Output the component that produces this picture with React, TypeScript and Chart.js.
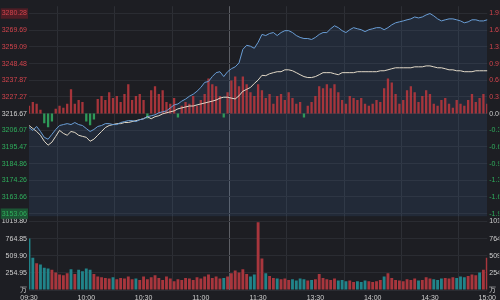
import React, { useEffect, useRef } from 'react';
import { Chart, registerables } from 'chart.js';

Chart.register(...registerables);

const PRE_CLOSE = 3216.67;
const PRICE_TICKS = [3280.28, 3269.69, 3259.09, 3248.48, 3237.87, 3227.27, 3216.67, 3206.07, 3195.47, 3184.86, 3174.26, 3163.66, 3153.06];
const VOLUME_TICKS = [0, 254.95, 509.9, 764.85, 1019.8];
const TIME_TICKS = ['09:30', '10:00', '10:30', '11:00', '11:30', '13:30', '14:00', '14:30', '15:00'];

// 2-minute samples, 09:30 .. 11:30 then 13:02 .. 15:00
const BLUE = [
  3207.8, 3206.0, 3208.5, 3205.3, 3201.6, 3200.4, 3203.5, 3206.6, 3209.1, 3209.7,
  3210.3, 3209.7, 3211.0, 3209.7, 3209.1, 3207.2, 3205.3, 3206.6, 3208.5, 3209.1,
  3210.3, 3210.3, 3209.7, 3209.7, 3211.0, 3211.6, 3212.2, 3212.2, 3211.6, 3212.8,
  3213.4, 3214.7, 3215.3, 3215.9, 3217.2, 3217.8, 3218.4, 3220.3, 3222.2, 3222.8,
  3224.6, 3225.9, 3227.7, 3229.0, 3230.9, 3233.3, 3236.5, 3237.1, 3240.2, 3242.7,
  3243.3, 3240.2, 3243.3, 3245.2, 3246.4, 3248.9, 3257.5, 3260.1, 3259.5, 3258.2,
  3262.0,
  3267.0, 3266.3, 3267.6, 3268.2, 3266.3, 3268.2, 3269.4, 3269.4, 3268.2, 3266.3,
  3265.1, 3264.4, 3264.4, 3263.8, 3265.1, 3267.0, 3268.2, 3268.2, 3270.6, 3272.5,
  3271.3, 3269.4, 3268.2, 3270.0, 3271.3, 3270.6, 3270.0, 3268.8, 3270.0, 3270.6,
  3271.3, 3271.3, 3270.0, 3271.3, 3273.1, 3274.4, 3275.0, 3275.6, 3276.3, 3276.9,
  3278.1, 3277.5, 3278.1, 3279.4, 3280.3, 3278.8, 3276.9, 3275.6, 3276.3, 3276.9,
  3276.9, 3276.3, 3275.6, 3274.4, 3275.0, 3276.3, 3276.3, 3275.6, 3275.6, 3276.3,
];

const WHITE = [
  3209.1, 3207.2, 3205.3, 3202.9, 3199.1, 3196.6, 3198.5, 3202.2, 3206.0, 3204.1,
  3202.9, 3205.3, 3204.7, 3202.9, 3202.2, 3201.6, 3199.1, 3200.4, 3202.9, 3205.3,
  3207.8, 3209.1, 3209.7, 3210.3, 3210.3, 3211.0, 3211.0, 3211.6, 3212.2, 3212.8,
  3213.4, 3214.7, 3213.4, 3214.7, 3215.3, 3216.5, 3217.2, 3217.8, 3218.4, 3219.7,
  3220.3, 3220.9, 3221.5, 3221.5, 3222.2, 3222.8, 3223.4, 3224.0, 3224.6, 3225.3,
  3226.5, 3227.1, 3227.1, 3226.5, 3226.0, 3228.0, 3230.9, 3232.1, 3233.3, 3235.8,
  3238.0,
  3241.0, 3240.8, 3242.0, 3242.7, 3243.3, 3243.3, 3244.5, 3244.5, 3243.9, 3242.7,
  3241.4, 3240.2, 3239.6, 3239.6, 3240.2, 3241.4, 3242.7, 3242.7, 3242.7, 3242.0,
  3241.4, 3242.7, 3242.7, 3242.7, 3242.7, 3243.3, 3243.3, 3243.3, 3243.3, 3243.3,
  3243.3, 3243.9, 3243.9, 3244.5, 3245.2, 3245.8, 3245.8, 3245.8, 3245.8, 3245.8,
  3246.4, 3246.4, 3246.4, 3247.0, 3247.0, 3246.4, 3245.8, 3245.8, 3245.2, 3244.5,
  3244.5, 3243.9, 3243.9, 3243.3, 3243.3, 3243.3, 3243.9, 3243.9, 3243.9, 3243.9,
];

// buying/selling strength, in index points around the previous close
const STRENGTH = [
  5.0, 7.4, 6.2, 2.5, -6.2, -8.7, -5.0, 3.1, 5.0, 3.7,
  6.2, 15.5, 6.2, 8.7, 7.4, -5.0, -7.4, -3.7, 9.3, 11.2,
  8.7, 13.6, 9.9, 11.2, 7.4, 12.4, 18.6, 8.7, 11.2, 12.4,
  8.7, -3.1, 14.9, 17.4, 12.4, 14.9, 7.4, 6.2, 9.9, -2.5,
  5.0, 7.4, 6.2, 11.2, 5.0, 8.7, 12.4, 22.3, 18.6, 17.4,
  11.2, -2.5, 13.6, 21.1, 23.6, 17.4, 23.6, 18.6, 13.6, 11.2,
  18.6,
  14.9, 9.9, 12.4, 6.2, 11.2, 12.4, 8.7, 13.6, 9.9, 6.2,
  7.4, -2.5, 5.0, 7.4, 11.2, 17.4, 16.1, 18.6, 16.1, 18.6,
  13.6, 8.7, 6.2, 11.2, 9.9, 8.7, 9.9, 6.2, 5.0, 6.2,
  8.7, 7.4, 16.1, 22.3, 19.8, 12.4, 6.2, 8.7, 14.9, 17.4,
  13.6, 7.4, 11.2, 14.9, 12.4, 6.2, 5.0, 8.7, 9.9, 6.2,
  3.7, 8.7, 6.2, 5.0, 8.7, 12.4, 7.4, 9.9, 12.4, 6.2,
];

// volume (万)
const VOLUME = [
  765, 480, 400, 380, 330, 320, 300, 260, 230, 220,
  250, 310, 240, 300, 280, 320, 300, 240, 200, 190,
  180, 170, 190, 160, 180, 170, 200, 160, 170, 150,
  200, 160, 190, 220, 180, 150, 200, 170, 130, 160,
  150, 180, 170, 150, 190, 170, 200, 230, 180, 200,
  170, 180, 200, 250, 290, 260, 310, 240, 200, 230,
  1010,
  470, 250, 210, 180, 170, 160, 170, 150, 160, 140,
  170, 160, 140, 150, 160, 240, 180, 160, 150, 170,
  140, 150, 130, 140, 120, 130, 120, 140, 130, 120,
  130, 150, 200, 250, 180, 150, 140, 130, 160, 150,
  170, 140, 150, 190, 170, 160, 150, 170, 180, 170,
  190, 180, 200, 190, 210, 230, 220, 260, 300, 480,
];

const pad = (n: number) => (n < 10 ? '0' + n : '' + n);
const fmt = (mins: number) => pad(Math.floor(mins / 60)) + ':' + pad(mins % 60);
const TIMES: string[] = [];
for (let i = 0; i <= 60; i++) TIMES.push(fmt(9 * 60 + 30 + i * 2));
for (let i = 1; i <= 60; i++) TIMES.push(fmt(13 * 60 + i * 2));

const RED = '#d2434c';
const GREEN = '#2fae5c';
const LABEL_GRAY = '#cfcfcf';
const FONT = { family: 'Arial, "Liberation Sans", sans-serif', size: 7 };

export default function App() {
  const ref = useRef<HTMLCanvasElement | null>(null);

  useEffect(() => {
    document.body.style.margin = '0';
    const canvas = ref.current;
    if (!canvas) return;

    const volColors = VOLUME.map((_, i) => {
      const prev = i === 0 ? PRE_CLOSE : BLUE[i - 1];
      return BLUE[i] >= prev ? '#a8363d' : '#21848a';
    });
    const strengthColors = STRENGTH.map((v) => (v >= 0 ? 'rgba(190,56,62,0.85)' : '#2e9a58'));

    const priceColor = (v: number) => (v > PRE_CLOSE + 0.001 ? RED : v < PRE_CLOSE - 0.001 ? GREEN : LABEL_GRAY);

    const volumeAxis = (position: string, width: number, showGrid: boolean) => ({
      type: 'linear',
      position,
      stack: position === 'left' ? 'L' : 'R',
      stackWeight: 75,
      min: 0,
      max: 1092.6,
      border: { display: false },
      grid: { display: showGrid, color: '#2a2c32', drawTicks: false },
      afterBuildTicks: (s: any) => { s.ticks = VOLUME_TICKS.map((v) => ({ value: v })); },
      ticks: {
        autoSkip: false,
        padding: 2,
        font: FONT,
        color: LABEL_GRAY,
        callback: (v: any) => (Number(v) === 0 ? '万' : Number(v).toFixed(2)),
      },
      afterFit: (s: any) => { s.width = width; },
    });

    const chart = new Chart(canvas, {
      type: 'bar',
      data: {
        labels: TIMES,
        datasets: [
          {
            type: 'line',
            label: 'fill',
            data: BLUE,
            yAxisID: 'y',
            borderWidth: 0,
            pointRadius: 0,
            fill: 'start',
            backgroundColor: 'rgba(70,120,185,0.14)',
            order: 10,
          } as any,
          {
            type: 'bar',
            label: 'strength',
            data: STRENGTH.map((v) => [PRE_CLOSE, PRE_CLOSE + v]),
            yAxisID: 'y',
            backgroundColor: strengthColors,
            borderWidth: 0,
            barPercentage: 0.6,
            categoryPercentage: 1,
            grouped: false,
            order: 5,
          } as any,
          {
            type: 'bar',
            label: 'volume',
            data: VOLUME,
            yAxisID: 'yv',
            backgroundColor: volColors,
            borderWidth: 0,
            barPercentage: 0.75,
            categoryPercentage: 1,
            grouped: false,
            order: 5,
          } as any,
          {
            type: 'line',
            label: 'avg',
            data: WHITE,
            yAxisID: 'y',
            borderColor: '#e2d9c8',
            borderWidth: 1,
            pointRadius: 0,
            fill: false,
            order: 2,
          } as any,
          {
            type: 'line',
            label: 'index',
            data: BLUE,
            yAxisID: 'y',
            borderColor: '#6a9ed6',
            borderWidth: 1,
            pointRadius: 0,
            fill: false,
            order: 1,
          } as any,
        ],
      },
      options: {
        responsive: false,
        animation: false,
        devicePixelRatio: 1,
        layout: { padding: 0 },
        plugins: { legend: { display: false }, tooltip: { enabled: false } },
        scales: {
          x: {
            type: 'category',
            offset: false,
            border: { display: false },
            grid: {
              color: (ctx: any) => (ctx.tick && ctx.tick.label === '11:30' ? '#5d5f65' : '#2d2f35'),
              lineWidth: 1,
              drawTicks: false,
            },
            ticks: {
              autoSkip: false,
              maxRotation: 0,
              padding: 4,
              color: LABEL_GRAY,
              font: FONT,
              callback: (_v: any, i: number) => (TIME_TICKS.includes(TIMES[i]) ? TIMES[i] : null),
            },
            afterFit: (s: any) => { s.height = 10; },
          },
          yv: volumeAxis('left', 29, true),
          y: {
            type: 'linear',
            position: 'left',
            stack: 'L',
            stackWeight: 215,
            min: 3151.19,
            max: 3284.95,
            border: { display: false },
            grid: { color: '#2a2c32', drawTicks: false },
            afterBuildTicks: (s: any) => { s.ticks = PRICE_TICKS.map((v) => ({ value: v })); },
            ticks: {
              autoSkip: false,
              padding: 2,
              font: FONT,
              color: (ctx: any) => priceColor(ctx.tick.value),
              callback: (v: any) => Number(v).toFixed(2),
              showLabelBackdrop: (ctx: any) => ctx.index === 0 || ctx.index === PRICE_TICKS.length - 1,
              backdropColor: (ctx: any) => (ctx.index === 0 ? '#4f1d25' : '#1c5534'),
              backdropPadding: 1,
            },
            afterFit: (s: any) => { s.width = 29; },
          },
          yp: {
            type: 'linear',
            position: 'right',
            stack: 'R',
            stackWeight: 215,
            min: 3151.19,
            max: 3284.95,
            border: { display: false },
            grid: { display: false, drawTicks: false },
            afterBuildTicks: (s: any) => { s.ticks = PRICE_TICKS.map((v) => ({ value: v })); },
            ticks: {
              autoSkip: false,
              padding: 2,
              font: FONT,
              color: (ctx: any) => priceColor(ctx.tick.value),
              callback: (v: any) => (((Number(v) - PRE_CLOSE) / PRE_CLOSE) * 100).toFixed(2) + '%',
            },
            afterFit: (s: any) => { s.width = 12; },
          },
          yv2: volumeAxis('right', 12, false),
        },
      } as any,
    });

    return () => chart.destroy();
  }, []);

  return (
    <div style={{ position: 'fixed', left: 0, top: 0, width: 500, height: 300, background: '#1d1e23' }}>
      <canvas ref={ref} width={500} height={300} style={{ display: 'block' }} />
    </div>
  );
}
